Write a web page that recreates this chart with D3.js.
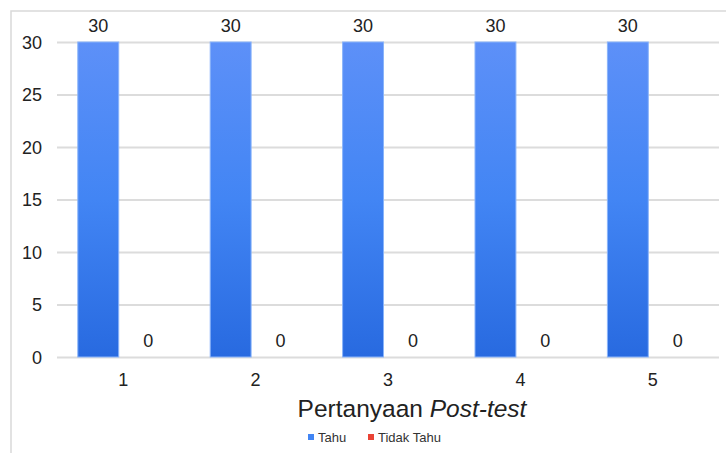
<!DOCTYPE html>
<html><head><meta charset="utf-8">
<script src="https://cdn.jsdelivr.net/npm/d3@7"></script>
<style>body{margin:0;background:#fff;font-family:"Liberation Sans",Arial,sans-serif;}</style>
</head><body><svg id="c" width="726" height="453"></svg>
<script>
const categories = ["1","2","3","4","5"];
const seriesNames = ["Tahu","Tidak Tahu"];
const tahu = [30,30,30,30,30];
const tidakTahu = [0,0,0,0,0];
const yTicks = [0,5,10,15,20,25,30];
const seriesColors = ["#4285f4","#ea4335"];

const svg = d3.select("#c");
const m = {l:57, r:719, t:42, b:357};
const FF = "Liberation Sans, Arial, sans-serif";

// frame
svg.append("path").attr("d","M11,453 L11,11 L726,11").attr("fill","none").attr("stroke","#d9d9d9").attr("stroke-width",1.5);

const defs = svg.append("defs");
const g = defs.append("linearGradient").attr("id","gb").attr("x1",0).attr("y1",0).attr("x2",0).attr("y2",1);
g.append("stop").attr("offset","0%").attr("stop-color","#5d90f8");
g.append("stop").attr("offset","50%").attr("stop-color","#4285f4");
g.append("stop").attr("offset","100%").attr("stop-color","#286ae0");

const x = d3.scaleBand().domain(categories).range([m.l,m.r]).paddingInner(0).paddingOuter(0);
const x1 = d3.scaleBand().domain(seriesNames).range([20.8, x.bandwidth()-20.8]).paddingInner(0.18);
const y = d3.scaleLinear().domain([0,30]).range([m.b,m.t]);

// grid
svg.append("g").selectAll("line").data(yTicks).join("line")
  .attr("x1",m.l).attr("x2",m.r).attr("y1",d=>y(d)+0.5).attr("y2",d=>y(d)+0.5)
  .attr("stroke","#dcdcdc").attr("stroke-width",2);

// y labels
const ya = svg.append("g").attr("transform",`translate(${m.l},0)`)
  .call(d3.axisLeft(y).tickValues(yTicks).tickSize(0).tickPadding(15));
ya.select(".domain").remove();
ya.selectAll("text").attr("font-size",18).attr("fill","#222").attr("font-family",FF).attr("dy","0.35em");

// x labels
const xa = svg.append("g").attr("transform",`translate(0,${m.b})`)
  .call(d3.axisBottom(x).tickSize(0).tickPadding(16));
xa.select(".domain").remove();
xa.selectAll("text").attr("font-size",18).attr("fill","#222").attr("font-family",FF);

const data = categories.map((c,i)=>({c, vals:[{s:"Tahu",v:tahu[i]},{s:"Tidak Tahu",v:tidakTahu[i]}]}));
const grp = svg.append("g").selectAll("g").data(data).join("g").attr("transform",d=>`translate(${x(d.c)},0)`);
grp.selectAll("rect").data(d=>d.vals.filter(v=>v.v>0)).join("rect")
  .attr("x",d=>x1(d.s)).attr("width",x1.bandwidth())
  .attr("y",d=>y(d.v)).attr("height",d=>y(0)-y(d.v))
  .attr("fill",d=>d.s==="Tahu"?"url(#gb)":seriesColors[1])
  .attr("stroke","#8ab4fa").attr("stroke-width",1);
grp.selectAll("text").data(d=>d.vals).join("text")
  .attr("x",d=>x1(d.s)+x1.bandwidth()/2).attr("y",d=>y(d.v)-10)
  .attr("text-anchor","middle").attr("font-size",18).attr("fill","#222").attr("font-family",FF)
  .text(d=>d.v);

// axis title
const t = svg.append("text").attr("x",412).attr("y",417).attr("text-anchor","middle")
  .attr("font-size",24.5).attr("fill","#222").attr("font-family",FF);
t.append("tspan").text("Pertanyaan ");
t.append("tspan").attr("font-style","italic").text("Post-test");

// legend
const leg = svg.append("g").attr("transform","translate(308,437)");
const items = [{n:"Tahu",c:seriesColors[0],x:0},{n:"Tidak Tahu",c:seriesColors[1],x:60}];
items.forEach(it=>{
  leg.append("rect").attr("x",it.x).attr("y",-3).attr("width",6).attr("height",6).attr("fill",it.c);
  leg.append("text").attr("x",it.x+10).attr("y",0).attr("dy","0.35em").attr("font-size",13).attr("fill","#333").attr("font-family",FF).text(it.n);
});
</script></body></html>
